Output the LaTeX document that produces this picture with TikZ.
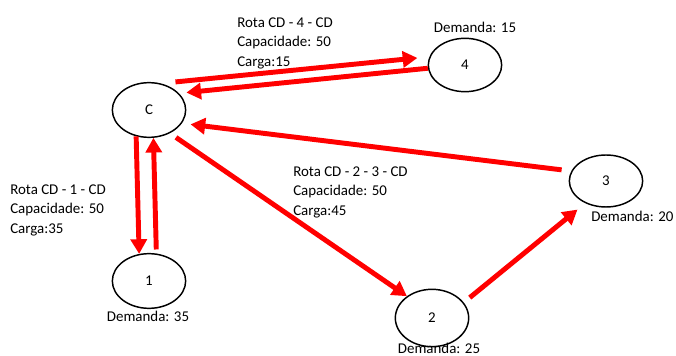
\documentclass[tikz,border=0pt]{standalone}
\usepackage{fontspec}
\setmainfont{Carlito}
\usetikzlibrary{arrows.meta,shapes.geometric}

\begin{document}
\begin{tikzpicture}[x=0.75pt,y=-0.75pt,
  font=\fontsize{11.2}{14.5}\selectfont,
  ponto/.style={draw,ellipse,line width=1.1pt,minimum width=55pt,minimum height=41pt,inner sep=0pt},
  rota/.style={draw=red,line width=3.7pt,-{Triangle[length=11pt,width=12pt]}},
  info/.style={align=left,inner sep=0pt,anchor=north west},
  demanda/.style={inner sep=0pt,anchor=base}]
  \useasboundingbox (0,0) rectangle (676,356);
  % pontos da rede
  \node[ponto] (cd) at (149,110) {C};
  \node[ponto, minimum height=40pt] (n4) at (465,65) {4};
  \node[ponto] (n1) at (149,281) {1};
  \node[ponto, minimum height=43pt] (n2) at (432,318) {2};
  \node[ponto, minimum height=39pt] (n3) at (606,181) {3};
  % demandas
  \node[demanda] (d4) at (475,33) {Demanda: 15};
  \node[demanda] (d1) at (148,322) {Demanda: 35};
  \node[demanda] (d2) at (439,353.5) {Demanda: 25};
  \node[demanda, anchor=base west] (d3) at (591,222) {Demanda: 20};
  % dados das rotas
  \node[info] (r4) at (237,17.6) {Rota CD - 4 - CD\\Capacidade: 50\\Carga:15};
  \node[info] (r1) at (10,184.6) {Rota CD - 1 - CD\\Capacidade: 50\\Carga:35};
  \node[info] (r23) at (293,166.6) {Rota CD - 2 - 3 - CD\\Capacidade: 50\\Carga:45};
  % rotas
  \draw[rota, shorten <=11pt, shorten >=9pt] (cd.66) -- (n4.167);
  \draw[rota, shorten >=5.5pt] (n4.185) -- (cd.29);
  \draw[rota, shorten <=7.3pt, shorten >=6.5pt] (n3.164) -- (cd.-22);
  \draw[rota] (cd.-116) -- (n1.110);
  \draw[rota, shorten <=3pt] (n1.75) -- (cd.-81);
  \draw[rota, shorten <=5.5pt] (cd.-48) -- (n2.139);
  \draw[rota, shorten <=5.8pt, shorten >=7.5pt] (n2.26) -- (n3.-133);
\end{tikzpicture}
\end{document}
